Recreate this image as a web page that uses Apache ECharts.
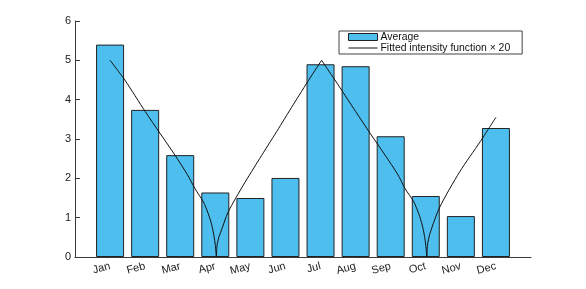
<!DOCTYPE html>
<html>
<head>
<meta charset="utf-8">
<script src="https://cdn.jsdelivr.net/npm/echarts@6/dist/echarts.min.js"></script>
<style>html,body{margin:0;padding:0;background:#fff;}#c{width:586px;height:289px;}</style>
</head>
<body>
<div id="c"></div>
<script>
const months = ['Jan','Feb','Mar','Apr','May','Jun','Jul','Aug','Sep','Oct','Nov','Dec'];
const monthPos = [1,2,3,4,5,6,7,8,9,10,11,12];
const averages = [5.40, 3.74, 2.59, 1.64, 1.50, 2.01, 4.90, 4.85, 3.07, 1.55, 1.04, 3.28];
// fitted curve in four pieces (cusps at zeros and at the Jul peak)
const fitX1 = [1.00,1.42,2.00,2.42,2.85,3.20,3.42,3.66,3.80,3.90,3.96,4.00,4.03];
const fitY1 = [5.00,4.50,3.70,3.15,2.59,2.10,1.74,1.40,1.10,0.81,0.55,0.30,0.00];
const fitX2 = [4.03,4.05,4.10,4.15,4.37,4.80,5.27,5.75,6.22,6.70,7.03];
const fitY2 = [0.00,0.30,0.50,0.62,1.15,1.83,2.51,3.19,3.87,4.55,5.00];
const fitX3 = [7.03,7.41,8.00,8.41,8.84,9.20,9.41,9.66,9.80,9.90,9.96,10.00,10.03];
const fitY3 = [5.00,4.50,3.70,3.15,2.59,2.10,1.74,1.40,1.10,0.81,0.55,0.30,0.00];
const fitX4 = [10.03,10.05,10.12,10.40,10.97,11.55,12.00];
const fitY4 = [0.00,0.30,0.60,1.27,2.17,2.93,3.55];
const yTicks = [0,1,2,3,4,5,6];

const chart = echarts.init(document.getElementById('c'), null, {renderer:'canvas'});
const font = 'Liberation Sans, Arial, Helvetica, sans-serif';
const axisCol = '#3a3a3a';
const lineName = 'Fitted intensity function \u00d7 20';
const linePiece = (xs, ys) => ({
  name: lineName, type: 'line', symbol: 'none', smooth: 0.25,
  lineStyle: {color: '#111', width: 1}, itemStyle: {color: '#111'},
  data: xs.map((x, i) => [x, ys[i]]), z: 3
});
chart.setOption({
  animation: false,
  backgroundColor: '#fff',
  textStyle: {fontFamily: font},
  grid: {left: 75, right: 55, top: 21, bottom: 32, containLabel: false},
  legend: {
    orient: 'vertical', left: 339, top: 31,
    itemWidth: 29, itemHeight: 7, itemGap: 1,
    padding: [1, 12, 1, 9],
    borderColor: '#444', borderWidth: 1, borderRadius: 0,
    backgroundColor: '#fff',
    textStyle: {fontFamily: font, fontSize: 10.4, lineHeight: 10, color: '#111', padding: [0,0,0,-2]},
    data: [
      {name: 'Average', icon: 'rect', itemStyle: {color: '#4DBEEE', borderColor: '#222', borderWidth: 1}},
      {name: lineName, icon: 'path://M0,0 L0.001,0 L0.001,0.001 Z M0,3.1 L29,3.1 L29,4.1 L0,4.1 Z M0,7 L0.001,7 L0.001,6.999 Z',
       itemStyle: {color: '#111', borderWidth: 0}}
    ]
  },
  xAxis: {
    type: 'value', min: 0, max: 13, interval: 1,
    axisLine: {show: true, lineStyle: {color: axisCol, width: 1}},
    axisTick: {show: false},
    splitLine: {show: false},
    axisLabel: {
      rotate: 15, margin: 9, fontSize: 11, color: '#222', fontFamily: font,
      formatter: v => { const i = monthPos.indexOf(v); return i >= 0 ? months[i] : ''; }
    }
  },
  yAxis: {
    type: 'value', min: yTicks[0], max: yTicks[yTicks.length-1], interval: 1,
    axisLine: {show: true, lineStyle: {color: axisCol, width: 1}},
    axisTick: {show: true, inside: true, length: 5, lineStyle: {color: axisCol}},
    splitLine: {show: false},
    axisLabel: {fontSize: 11, color: '#222', margin: 4, fontFamily: font}
  },
  series: [
    {
      name: 'Average', type: 'bar', barWidth: 28,
      itemStyle: {color: '#4DBEEE', borderColor: '#222', borderWidth: 1},
      data: monthPos.map((m, i) => [m, averages[i]]),
      z: 2
    },
    linePiece(fitX1, fitY1),
    linePiece(fitX2, fitY2),
    linePiece(fitX3, fitY3),
    linePiece(fitX4, fitY4)
  ]
});
</script>
</body>
</html>
